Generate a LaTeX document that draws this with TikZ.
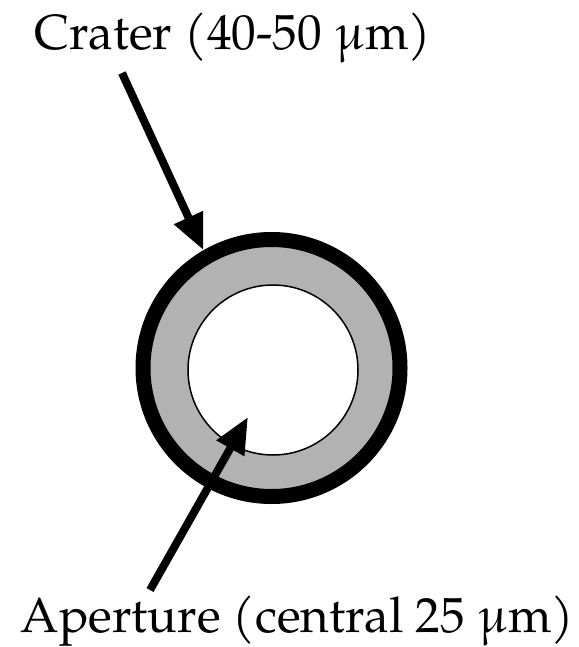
\documentclass[tikz,border=0pt]{standalone}
\usepackage{fontspec}
\setmainfont{texgyrepagella-regular.otf}
\usetikzlibrary{arrows.meta}
\definecolor{ringgray}{RGB}{178,178,178}
\tikzset{
  lbl/.style={inner sep=0pt, anchor=base, font=\fontsize{49.3}{58}\selectfont},
  pointer/.style={line width=8pt, -{Triangle[length=36pt,width=30pt]}},
  craterring/.style={circle, draw=black, line width=15pt, fill=ringgray, inner sep=0pt, minimum size=257pt},
  aperturehole/.style={circle, draw=black, line width=1.5pt, fill=white, inner sep=0pt, minimum size=170pt}
}
\begin{document}
\begin{tikzpicture}[x=1pt,y=-1pt]
\useasboundingbox (0,0) rectangle (578,647);
\node[craterring] (ring) at (271.5,368) {};
\node[aperturehole] (hole) at (273,370) {};
\node[lbl] (tcrater) at (233,50) {Crater (40-50 μm)};
\node[lbl] (taperture) at (297.5,632) {Aperture (central 25 μm)};
\coordinate (cstart) at (122,73);
\coordinate (astart) at (150,590);
\coordinate (aend) at (248,417);
\draw[pointer] (cstart) -- (ring.120);
\draw[pointer] (astart) -- (aend);
\end{tikzpicture}
\end{document}
